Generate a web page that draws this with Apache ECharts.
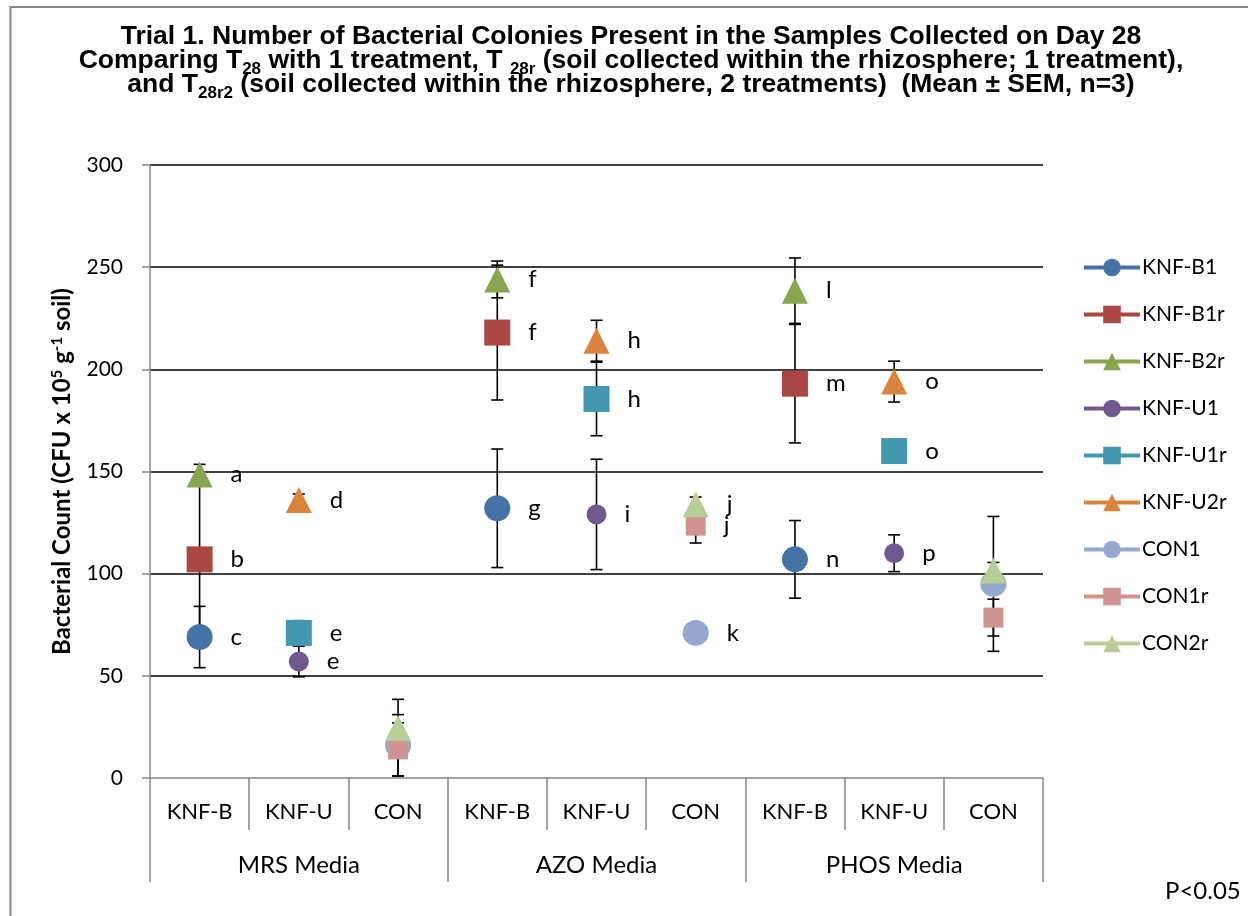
<!DOCTYPE html>
<html>
<head>
<meta charset="utf-8">
<script src="https://cdn.jsdelivr.net/npm/echarts@6/dist/echarts.min.js"></script>
<style>
  html, body { margin: 0; padding: 0; background: #fff; }
  #chart { width: 1248px; height: 916px; }
</style>
</head>
<body>
<div id="chart"></div>
<script>
// ---- data ----
const categories = ['KNF-B', 'KNF-U', 'CON', 'KNF-B', 'KNF-U', 'CON', 'KNF-B', 'KNF-U', 'CON'];
const groups = ['MRS Media', 'AZO Media', 'PHOS Media'];
const seriesNames = ['KNF-B1', 'KNF-B1r', 'KNF-B2r', 'KNF-U1', 'KNF-U1r', 'KNF-U2r', 'CON1', 'CON1r', 'CON2r'];

const knfB1    = [69, null, null, 132, null, null, 107, null, null];
const knfB1r   = [107, null, null, 218, null, null, 193, null, null];
const knfB2r   = [148.5, null, null, 244, null, null, 238.5, null, null];
const knfU1    = [null, 57, null, null, 129, null, null, 110, null];
const knfU1r   = [null, 71, null, null, 185.5, null, null, 160, null];
const knfU2r   = [null, 136, null, null, 214, null, null, 194, null];
const con1     = [null, null, 16, null, null, 71, null, null, 95];
const con1r    = [null, null, 14, null, null, 123.5, null, null, 78.5];
const con2r    = [null, null, 24.5, null, null, 134, null, null, 101.5];

const errB1    = [15, null, null, 29, null, null, 19, null, null];
const errB1r   = [41, null, null, 33, null, null, 29, null, null];
const errB2r   = [5, null, null, 9, null, null, 16, null, null];
const errU1    = [null, 7.5, null, null, 27, null, null, 9, null];
const errU1r   = [null, 6, null, null, 18, null, null, 0, null];
const errU2r   = [null, 3, null, null, 10, null, null, 10, null];
const errC1    = [null, null, 15, null, null, 0, null, null, 33];
const errC1r   = [null, null, 13, null, null, 8.5, null, null, 9];
const errC2r   = [null, null, 14, null, null, 3.5, null, null, 4];

const letB1    = ['c', '', '', 'g', '', '', 'n', '', ''];
const letB1r   = ['b', '', '', 'f', '', '', 'm', '', ''];
const letB2r   = ['a', '', '', 'f', '', '', 'l', '', ''];
const letU1    = ['', 'e', '', '', 'i', '', '', 'p', ''];
const letU1r   = ['', 'e', '', '', 'h', '', '', 'o', ''];
const letU2r   = ['', 'd', '', '', 'h', '', '', 'o', ''];
const letC1    = ['', '', '', '', '', 'k', '', '', ''];
const letC1r   = ['', '', '', '', '', 'j', '', '', ''];
const letC2r   = ['', '', '', '', '', 'j', '', '', ''];

const yTicks = { min: 0, max: 300, interval: 50 };

// ---- styles ----
const values  = [knfB1, knfB1r, knfB2r, knfU1, knfU1r, knfU2r, con1, con1r, con2r];
const errors  = [errB1, errB1r, errB2r, errU1, errU1r, errU2r, errC1, errC1r, errC2r];
const letters = [letB1, letB1r, letB2r, letU1, letU1r, letU2r, letC1, letC1r, letC2r];
const colors  = ['#4572A7', '#AA4643', '#89A54E', '#71588F', '#4198AF', '#DB843D', '#93A9CF', '#D19392', '#B9CD96'];
const symbols = ['circle', 'rect', 'triangle', 'circle', 'rect', 'triangle', 'circle', 'rect', 'triangle'];
const sizes   = [26, 26, 26, 20, 26, 26, 26, 20, 26];

const FONT = 'Lato';

const series = [];
// error bars (drawn below markers)
values.forEach((vals, si) => {
  const data = [];
  vals.forEach((v, i) => {
    if (v !== null && errors[si][i] !== null && errors[si][i] > 0) data.push([i, v, errors[si][i]]);
  });
  series.push({
    type: 'custom',
    name: seriesNames[si] + ' err',
    z: 1,
    silent: true,
    data: data,
    encode: { x: 0, y: 1 },
    renderItem: function (params, api) {
      const x = api.value(0), v = api.value(1), e = api.value(2);
      const top = api.coord([x, v + e]);
      const bot = api.coord([x, v - e]);
      const hw = 6;
      const st = { stroke: '#000', lineWidth: 1.6 };
      return {
        type: 'group',
        children: [
          { type: 'line', shape: { x1: top[0], y1: top[1], x2: bot[0], y2: bot[1] }, style: st },
          { type: 'line', shape: { x1: top[0] - hw, y1: top[1], x2: top[0] + hw, y2: top[1] }, style: st },
          { type: 'line', shape: { x1: bot[0] - hw, y1: bot[1], x2: bot[0] + hw, y2: bot[1] }, style: st }
        ]
      };
    }
  });
});
// markers
values.forEach((vals, si) => {
  series.push({
    type: 'line',
    name: seriesNames[si],
    data: vals,
    z: 3,
    symbol: symbols[si],
    symbolSize: sizes[si],
    showSymbol: true,
    showAllSymbol: true,
    connectNulls: false,
    itemStyle: { color: colors[si], opacity: 1 },
    lineStyle: { color: colors[si], width: 4 },
    emphasis: { disabled: true },
    label: {
      show: true,
      position: 'right',
      distance: 18,
      fontFamily: FONT,
      fontSize: 24,
      color: '#000',
      formatter: function (p) { return letters[si][p.dataIndex] || ''; }
    }
  });
});

const chart = echarts.init(document.getElementById('chart'), null, { renderer: 'canvas' });
chart.setOption({
  animation: false,
  backgroundColor: '#fff',
  graphic: [{
    type: 'rect',
    shape: { x: 10.5, y: 7, width: 1400, height: 1000 },
    style: { fill: 'none', stroke: '#868686', lineWidth: 2 },
    silent: true
  }],
  title: [{
    left: 626,
    top: 20,
    textAlign: 'center',
    text: '{b|Trial 1. Number of Bacterial Colonies Present in the Samples Collected on Day 28}\n' +
          '{b|Comparing T}{s|28}{b| with 1 treatment, T }{s|28r}{b| (soil collected within the rhizosphere; 1 treatment),}\n' +
          '{b|and T}{s|28r2}{b| (soil collected within the rhizosphere, 2 treatments)  (Mean \u00B1 SEM, n=3)}',
    textStyle: {
      rich: {
        b: { fontFamily: 'Liberation Sans', fontWeight: 'bold', fontSize: 26.5, lineHeight: 24, color: '#000' },
        s: { fontFamily: 'Liberation Sans', fontWeight: 'bold', fontSize: 17, lineHeight: 6, padding: [16, 0, 0, 0], color: '#000' }
      }
    }
  }, {
    text: 'P<0.05',
    left: 1160,
    top: 874,
    textStyle: { fontFamily: FONT, fontSize: 24, fontWeight: 'normal', color: '#000' }
  }],
  legend: {
    data: seriesNames,
    orient: 'vertical',
    left: 1082,
    top: 257,
    padding: 0,
    itemWidth: 56,
    itemHeight: 22,
    itemGap: 26,
    lineStyle: { width: 4 },
    textStyle: { fontFamily: FONT, fontSize: 21, color: '#000', padding: [0, 0, 0, -3] },
    selectedMode: false
  },
  grid: { left: 150, right: 205, top: 165, bottom: 138, containLabel: false },
  xAxis: [{
    type: 'category',
    data: categories,
    position: 'bottom',
    boundaryGap: true,
    axisLine: { show: true, lineStyle: { color: '#868686', width: 1.5 } },
    axisTick: { show: true, interval: 0, length: 52, lineStyle: { color: '#868686', width: 1.5 } },
    axisLabel: { interval: 0, margin: 23, fontFamily: FONT, fontSize: 22, color: '#000' },
    splitLine: { show: false }
  }, {
    type: 'category',
    data: groups,
    position: 'bottom',
    offset: 52,
    boundaryGap: true,
    axisLine: { show: false },
    axisTick: { show: true, interval: 0, length: 52, lineStyle: { color: '#868686', width: 1.5 } },
    axisLabel: { interval: 0, margin: 23, fontFamily: FONT, fontSize: 24, color: '#000' },
    splitLine: { show: false }
  }],
  yAxis: {
    type: 'value',
    min: yTicks.min,
    max: yTicks.max,
    interval: yTicks.interval,
    name: '{b|Bacterial Count (CFU x 10}{sup|5}{b| g}{sup|-1}{b| soil)}',
    nameLocation: 'middle',
    nameGap: 76,
    nameRotate: 90,
    nameTextStyle: {
      rich: {
        b: { fontFamily: FONT, fontWeight: 'bold', fontSize: 24, lineHeight: 24, color: '#000' },
        sup: { fontFamily: FONT, fontWeight: 'bold', fontSize: 15, lineHeight: 10, verticalAlign: 'top', color: '#000' }
      }
    },
    axisLine: { show: true, lineStyle: { color: '#868686', width: 1.5 } },
    axisTick: { show: true, length: 8, lineStyle: { color: '#868686', width: 1.5 } },
    axisLabel: { margin: 27, fontFamily: FONT, fontSize: 21, color: '#000' },
    splitLine: { show: true, showMinLine: false, lineStyle: { color: '#000', width: 1.5 } }
  },
  series: series
});
</script>
</body>
</html>
